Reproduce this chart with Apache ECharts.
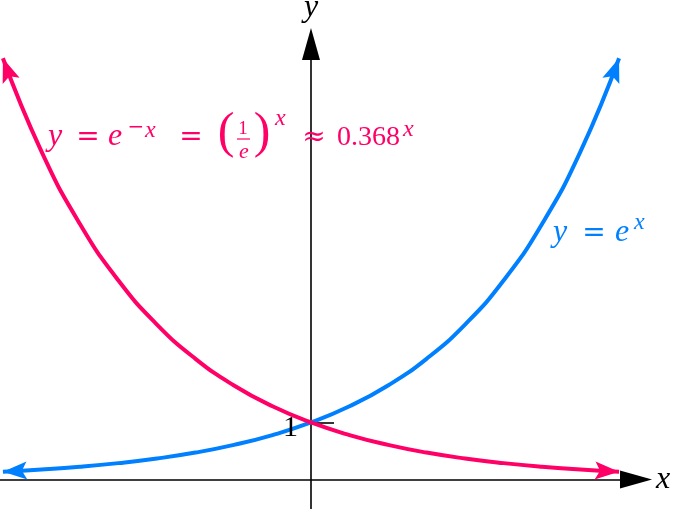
<html>
<head>
    <title>e^x and e^-x</title>
    <script src="https://cdn.jsdelivr.net/npm/echarts@6.0.0/dist/echarts.min.js"></script>
</head>
<body style="margin:0">
    <div id="main" style="width:680px;height:509px;"></div>
    <script type="text/javascript">
        // values
        var xVals = [-2, -1.75, -1.5, -1.25, -1, -0.75, -0.5, -0.25, 0, 0.25, 0.5, 0.75, 1, 1.25, 1.5, 1.75, 2];
        var growth = [0.135, 0.174, 0.223, 0.287, 0.368, 0.472, 0.607, 0.779, 1, 1.284, 1.649, 2.117, 2.718, 3.49, 4.482, 5.755, 7.389];
        var decay = [7.389, 5.755, 4.482, 3.49, 2.718, 2.117, 1.649, 1.284, 1, 0.779, 0.607, 0.472, 0.368, 0.287, 0.223, 0.174, 0.135];
        var yTicks = [1];

        var RED = '#ff0066';
        var BLUE = '#0080ff';
        var SERIF = '"Liberation Serif", serif';
        var DEJA = '"DejaVu Serif", serif';
        // stealth-like head, pointing up
        var HEAD = 'path://M9,0 L18,24 L9,19 L0,24 Z';

        function arrow(rot, off) {
            return { symbol: HEAD, symbolSize: [18, 24], symbolRotate: rot, symbolOffset: off };
        }

        function pts(ys, first, last) {
            return xVals.map(function (x, i) {
                var item = { value: [x, ys[i]] };
                if (i === 0) Object.assign(item, first);
                if (i === xVals.length - 1) Object.assign(item, last);
                return item;
            });
        }

        function txt(s, x, y, size, italic, color, align, family) {
            var font = (italic ? 'italic ' : '') + size + 'px ' + (family || SERIF);
            return {
                type: 'text', x: x, y: y, z: 10,
                style: {
                    text: s, font: font, fill: color,
                    align: align || 'left', textAlign: align || 'left',
                    verticalAlign: 'middle', textVerticalAlign: 'middle'
                }
            };
        }

        var myChart = echarts.init(document.getElementById('main'));
        var option = {
            animation: false,
            grid: { left: 0, right: 44, top: 44, bottom: 0, outerBoundsMode: 'none' },
            xAxis: {
                type: 'value',
                min: -2.019, max: 2.11,
                splitLine: { show: false },
                axisTick: { show: false },
                axisLabel: { show: false },
                axisLine: {
                    onZero: true, symbol: ['none', 'triangle'], symbolSize: [18, 32],
                    lineStyle: { color: '#000', width: 1.6 }
                },
                name: 'x', nameLocation: 'end', nameGap: 20,
                nameTextStyle: { fontFamily: SERIF, fontStyle: 'italic', fontSize: 32, color: '#000' }
            },
            yAxis: {
                type: 'value',
                min: -0.518, max: 7.64,
                splitLine: { show: false },
                axisTick: { show: true, customValues: yTicks, inside: true, length: 23, lineStyle: { color: '#000', width: 1.6 } },
                axisLabel: { show: false },
                axisLine: {
                    onZero: true, symbol: ['none', 'triangle'], symbolSize: [18, 32],
                    lineStyle: { color: '#000', width: 1.6 }
                },
                name: 'y', nameLocation: 'end', nameGap: 20,
                nameTextStyle: { fontFamily: SERIF, fontStyle: 'italic', fontSize: 32, color: '#000' }
            },
            series: [
                {
                    name: 'e^x', type: 'line', smooth: true,
                    symbol: 'none', showSymbol: true, showAllSymbol: true,
                    lineStyle: { color: BLUE, width: 4 }, itemStyle: { color: BLUE },
                    data: pts(growth, arrow(93, [12, -0.6]), arrow(-20, [-4.1, 11.3]))
                },
                {
                    name: 'e^-x', type: 'line', smooth: true,
                    symbol: 'none', showSymbol: true, showAllSymbol: true,
                    lineStyle: { color: RED, width: 4 }, itemStyle: { color: RED },
                    data: pts(decay, arrow(20, [4.1, 11.3]), arrow(-93, [-12, -0.6]))
                }
            ],
            graphic: [
                // tick label on the y axis
                txt('1', 298, 428, 30, false, '#000', 'right'),
                // y = e^{-x} = (1/e)^x ≈ 0.368^x
                txt('y', 48, 137, 32, true, RED),
                txt('=', 88, 138, 28, false, RED, 'center', DEJA),
                txt('e', 108, 137, 32, true, RED),
                txt('\u2212', 136, 128, 20, false, RED, 'center', DEJA),
                txt('x', 145, 131, 24, true, RED),
                txt('=', 191, 138, 28, false, RED, 'center', DEJA),
                txt('(', 226, 134, 50, false, RED, 'center'),
                txt('1', 243, 129, 19, false, RED, 'center'),
                { type: 'line', z: 10, shape: { x1: 237, y1: 139, x2: 250, y2: 139 }, style: { stroke: RED, lineWidth: 1.2 } },
                txt('e', 244, 152, 22, true, RED, 'center'),
                txt(')', 262, 134, 50, false, RED, 'center'),
                txt('x', 275, 119, 24, true, RED),
                txt('\u2248', 314, 138, 28, false, RED, 'center', DEJA),
                txt('0.368', 337, 138, 28, false, RED),
                txt('x', 403, 130, 24, true, RED),
                // y = e^x
                txt('y', 553, 233, 32, true, BLUE),
                txt('=', 594, 234, 28, false, BLUE, 'center', DEJA),
                txt('e', 615, 233, 32, true, BLUE),
                txt('x', 634, 223, 24, true, BLUE)
            ]
        };
        option && myChart.setOption(option);
    </script>
</body>
</html>
